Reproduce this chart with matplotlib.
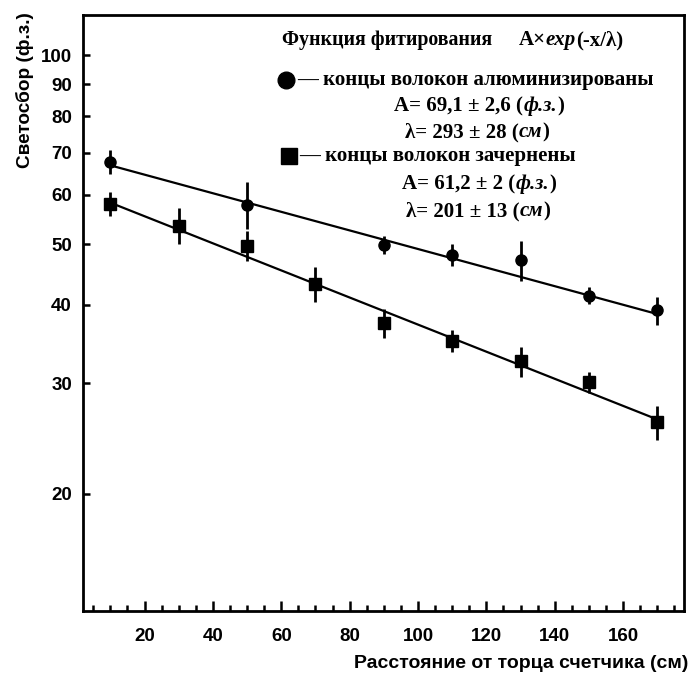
import numpy as np
import matplotlib
matplotlib.use("Agg")
import matplotlib.pyplot as plt
from matplotlib.ticker import FixedLocator, NullFormatter, MultipleLocator
from matplotlib.lines import Line2D

# ---- data ----
x_circ = [10, 50, 90, 110, 130, 150, 170]
y_circ = [67.7, 57.8, 49.9, 48.1, 47.1, 41.4, 39.2]
e_circ = [3.0, 5.0, 1.7, 2.0, 3.5, 1.3, 2.0]

x_sq = [10, 30, 50, 70, 90, 110, 130, 150, 170]
y_sq = [58.0, 53.5, 49.7, 43.2, 37.4, 35.1, 32.5, 30.1, 26.0]
e_sq = [2.5, 3.5, 2.7, 2.8, 2.0, 1.4, 1.8, 1.2, 1.6]

A_circ, lam_circ = 69.1, 293.0
A_sq, lam_sq = 61.2, 201.0
fit_range = [10, 170]

yticks = [20, 30, 40, 50, 60, 70, 80, 90, 100]
xticks = [20, 40, 60, 80, 100, 120, 140, 160]

W, H = 690, 676
fig = plt.figure(figsize=(W / 100, H / 100), dpi=100)
ax = fig.add_axes([83 / W, 1 - 611 / H, (684 - 83) / W, (611 - 15) / H])

ax.set_yscale('log')
ax.set_xlim(2, 177.8)
ax.set_ylim(13, 116)

xf = np.linspace(fit_range[0], fit_range[1], 50)
ax.plot(xf, A_circ * np.exp(-xf / lam_circ), color='black', lw=1.6)
ax.plot(xf, A_sq * np.exp(-xf / lam_sq), color='black', lw=1.6)

ax.errorbar(x_circ, y_circ, yerr=e_circ, fmt='o', color='black', ms=8,
            elinewidth=2, capsize=0)
ax.errorbar(x_sq, y_sq, yerr=e_sq, fmt='s', color='black', ms=8.5,
            elinewidth=2, capsize=0)

ax.set_yticks(yticks)
ax.set_yticklabels([str(t) for t in yticks])
ax.yaxis.set_minor_locator(FixedLocator([]))
ax.yaxis.set_minor_formatter(NullFormatter())
ax.set_xticks(xticks)
ax.xaxis.set_minor_locator(MultipleLocator(5))

for lab in ax.get_xticklabels() + ax.get_yticklabels():
    lab.set_fontfamily('Liberation Sans')
    lab.set_fontweight('bold')
    lab.set_fontsize(13.5)

ax.tick_params(axis='both', which='both', direction='in', width=1.8,
               top=False, right=False)
ax.tick_params(axis='x', which='major', length=7, pad=12)
ax.tick_params(axis='x', which='minor', length=4)
ax.tick_params(axis='y', which='major', length=5, pad=8)
for s in ax.spines.values():
    s.set_linewidth(2)

fig.text(25 / W, 1 - 90 / H, 'Светосбор (ф.з.)', rotation=90,
         ha='center', va='center', family='Liberation Sans', weight='bold', size=13.7)
fig.text(688 / W, 1 - 664 / H, 'Расстояние от торца счетчика (см)',
         ha='right', va='center', family='Liberation Sans', weight='bold', size=14)

FS = 15
renderer = fig.canvas.get_renderer()


def rich(pieces, x, y, align='left', size=FS):
    """pieces: list of (text, italic). x,y in pixel coords from top-left."""
    arts = []
    widths = []
    for txt, it in pieces:
        t = fig.text(0, 0, txt, family='Liberation Serif', weight='bold',
                     style='italic' if it else 'normal', size=size,
                     ha='left', va='center')
        bb = t.get_window_extent(renderer)
        arts.append(t)
        widths.append(bb.width)
    total = sum(widths)
    x0 = x - total / 2 if align == 'center' else x
    cur = x0
    for t, w in zip(arts, widths):
        t.set_position((cur / W, 1 - y / H))
        cur += w


rich([('Функция фитирования', False)], 282, 40, size=14.3)
rich([('A×', False), ('exp', True), ('(-x/λ)', False)], 519, 40)

fig.add_artist(Line2D([286 / W], [1 - 80 / H], marker='o', ms=12, color='black',
                      transform=fig.transFigure))
rich([('— концы волокон алюминизированы', False)], 297, 80)
rich([('A= 69,1 ± 2,6 (', False), ('ф.з.', True), (')', False)], 479, 106, 'center')
rich([('λ= 293 ± 28 (', False), ('см', True), (')', False)], 477, 132, 'center')

fig.add_artist(Line2D([289 / W], [1 - 156 / H], marker='s', ms=11, color='black',
                      transform=fig.transFigure))
rich([('— концы волокон зачернены', False)], 299, 156)
rich([('A= 61,2 ± 2 (', False), ('ф.з.', True), (')', False)], 479, 184, 'center')
rich([('λ= 201 ± 13 (', False), ('см', True), (')', False)], 478, 211, 'center')

fig.savefig('out.png', dpi=100)
